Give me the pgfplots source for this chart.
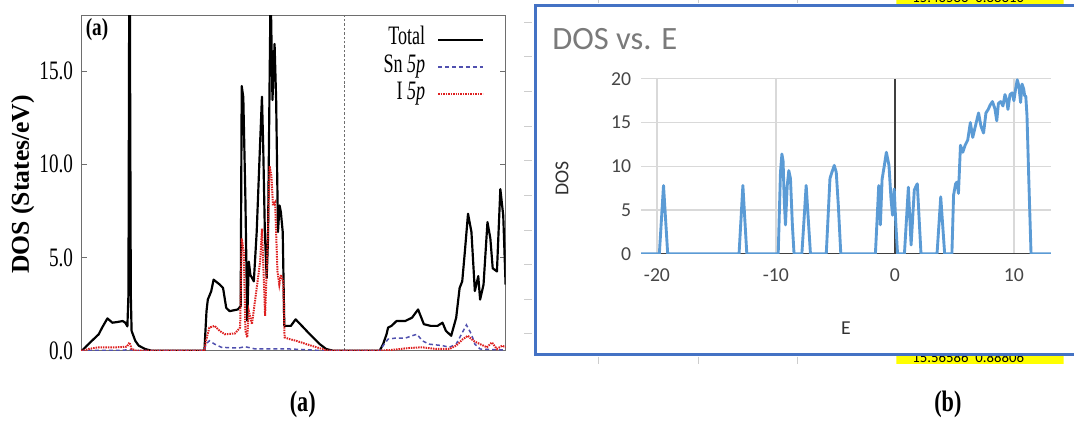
\documentclass[border=0pt]{standalone}
\usepackage{pgfplots}
\pgfplotsset{compat=1.18}
\usepackage{fontspec}
\setmainfont{Liberation Serif}
\newfontfamily\carlito{Carlito}
\usepackage{graphicx}

\definecolor{excelblue}{RGB}{91,155,213}
\definecolor{frameblue}{RGB}{68,114,196}
\definecolor{snblue}{RGB}{80,80,175}
\definecolor{ired}{RGB}{222,32,32}
\definecolor{excelgray}{RGB}{70,70,70}
\definecolor{titlegray}{RGB}{122,122,122}
\definecolor{gridgray}{RGB}{217,217,217}
\definecolor{framegray}{RGB}{110,110,110}
\definecolor{sheetgray}{RGB}{205,205,205}
\definecolor{hlyellow}{RGB}{255,255,0}

\newcommand{\cx}[1]{\scalebox{0.68}[1]{#1}}

\begin{document}
\begin{tikzpicture}
\begin{scope}[x=1bp,y=1bp]
\fill[white] (0,0) rectangle (1075,430);
\path[use as bounding box] (0,0) rectangle (1075,430);
\end{scope}

% ---------------- panel (a): total and partial DOS ----------------
\begin{axis}[
  at={(82bp,76bp)}, anchor=south west, scale only axis,
  width=429bp, height=339bp,
  xmin=-10, xmax=6.15, ymin=0, ymax=18,
  xtick=\empty, ytick={0,5,10,15},
  yticklabels={\scalebox{0.72}[1]{0.0},\scalebox{0.72}[1]{5.0},\scalebox{0.72}[1]{10.0},\scalebox{0.72}[1]{15.0}},
  yticklabel style={font=\fontsize{27}{27}\selectfont, inner sep=0pt, xshift=-8bp},
  tick align=inside, major tick length=6bp,
  tick style={color=framegray, line width=0.8bp},
  axis line style={color=framegray, line width=1bp},
  legend style={draw=none, fill=none, inner sep=0pt, outer sep=0pt,
    at={(0.9487,0.9676)}, anchor=north east,
    font=\fontsize{27}{27}\selectfont,
    legend cell align=right, legend plot pos=right, row sep=0pt,
    nodes={inner sep=0pt, text height=19bp, text depth=8.5bp},
    /tikz/every odd column/.append style={column sep=12bp}},
  legend image code/.code={\draw[#1] (0bp,0bp) -- (45bp,0bp);},
]
% Fermi level
\addplot[forget plot, color=framegray, line width=0.9bp, dash pattern=on 2.5bp off 2bp]
  coordinates {(0,0) (0,18)};

\addplot[black, line width=2.2bp, line join=round] coordinates {
(-10,0) (-9.97,0) (-9.78,0.27) (-9.59,0.53) (-9.33,0.88) (-9.20,1.24) (-9.00,1.73)
(-8.81,1.50) (-8.61,1.54) (-8.42,1.59) (-8.32,1.50) (-8.24,1.30) (-8.20,3.0)
(-8.16,25) (-8.11,3.0) (-8.08,1.06) (-7.94,0.53) (-7.81,0.27) (-7.57,0.09) (-7.33,0)
(-5.31,0) (-5.23,2.12) (-5.18,2.74) (-5.05,3.19) (-4.96,3.81) (-4.72,3.54) (-4.60,3.36)
(-4.48,2.30) (-4.35,2.12) (-4.04,2.21) (-3.93,2.39) (-3.89,14.2) (-3.83,13.6)
(-3.75,8.14) (-3.68,1.6) (-3.62,4.78) (-3.56,4.07) (-3.43,3.72) (-3.32,6.37)
(-3.19,11.15) (-3.12,13.63) (-3.07,10.8) (-3.01,6.37) (-2.94,3.89) (-2.89,6.02)
(-2.83,14.34) (-2.79,19.5) (-2.72,13.45) (-2.64,16.46) (-2.58,13.45) (-2.51,6.37)
(-2.45,7.79) (-2.40,7.43) (-2.33,6.37) (-2.27,1.33) (-2.02,1.33) (-1.84,1.68)
(-1.54,1.24) (-1.30,0.88) (-0.92,0.35) (-0.68,0.09) (-0.43,0)
(1.36,0) (1.49,0.35) (1.62,0.88) (1.68,1.24) (1.81,1.33) (2.00,1.59) (2.33,1.59)
(2.59,1.77) (2.82,2.21) (3.04,1.42) (3.30,1.33) (3.56,1.33) (3.75,1.50) (3.88,1.06)
(4.08,0.80) (4.27,1.77) (4.40,3.36) (4.50,3.72) (4.60,5.31) (4.72,7.35) (4.85,6.37)
(4.98,3.2) (5.11,4.0) (5.18,2.74) (5.31,3.54) (5.46,6.90) (5.57,6.02) (5.66,4.42)
(5.82,4.25) (5.95,8.67) (6.06,7.26) (6.15,3.54)
};
\addlegendentry{\cx{Total}}

\addplot[snblue, line width=1.5bp, dash pattern=on 4bp off 3bp] coordinates {
(-10,0) (-9.5,0.02) (-8.5,0.02) (-8.16,0.05) (-7.9,0) (-5.31,0) (-5.25,0.35)
(-5.12,0.53) (-4.92,0.35) (-4.66,0.18) (-4.02,0.14) (-3.76,0.21) (-3.37,0.09)
(-2.07,0.09) (-1.43,0.05) (-0.78,0) (1.36,0) (1.49,0.27) (1.68,0.62) (1.94,0.67)
(2.33,0.67) (2.59,0.80) (2.78,0.88) (2.98,0.53) (3.24,0.35) (3.75,0.27) (4.01,0.18)
(4.27,0.35) (4.47,0.88) (4.66,1.38) (4.85,0.88) (4.98,0.35) (5.18,0.09) (5.70,0.05)
(6.15,0.04)
};
\addlegendentry{\cx{Sn \textit{5p}}}

\addplot[ired, line width=2bp, dash pattern=on 1.5bp off 1bp] coordinates {
(-10,0) (-9.91,0) (-9.72,0.09) (-9.33,0.18) (-8.68,0.18) (-8.26,0.21) (-8.16,0.44)
(-8.08,0.09) (-7.90,0) (-5.31,0) (-5.25,0.53) (-5.12,1.24) (-4.92,1.33) (-4.73,1.06)
(-4.53,0.88) (-4.15,0.92) (-3.95,1.24) (-3.89,6.02) (-3.81,5.31) (-3.75,1.06)
(-3.68,0.71) (-3.62,2.12) (-3.50,1.42) (-3.32,3.36) (-3.19,4.78) (-3.12,6.55)
(-3.06,4.25) (-3.00,1.86) (-2.89,6.37) (-2.83,9.91) (-2.76,9.38) (-2.70,7.79)
(-2.62,7.96) (-2.53,4.25) (-2.46,3.54) (-2.40,4.07) (-2.31,3.72) (-2.26,0.71)
(-2.07,0.62) (-1.82,0.53) (-1.43,0.35) (-1.04,0.18) (-0.71,0.04) (-0.59,0)
(1.36,0) (1.81,0.04) (2.46,0.14) (2.98,0.18) (3.49,0.09) (4.01,0.09) (4.27,0.27)
(4.53,0.62) (4.72,0.80) (4.92,0.53) (5.18,0.35) (5.44,0.18) (5.63,0.44) (5.82,0.09)
(6.02,0.27) (6.15,0.18)
};
\addlegendentry{\cx{I \textit{5p}}}
\end{axis}

\begin{scope}[x=1bp,y=1bp]
\node[rotate=90, font=\bfseries\fontsize{26}{26}\selectfont, inner sep=0pt] at (23,244) {DOS (States/eV)};
\node[font=\bfseries\fontsize{25}{25}\selectfont, inner sep=0pt] at (98,401) {\scalebox{0.78}[1]{(a)}};

% ---------------- panel (b): spreadsheet chart ----------------
% surrounding sheet grid fragments
\foreach \yy in {408,373,338,303,268,233,198,163,128,93}
  \draw[sheetgray, line width=0.8bp] (530,\yy) -- (538,\yy);
\foreach \xx in {605,706,806} {
  \draw[sheetgray, line width=0.8bp] (\xx,70) -- (\xx,63);
  \draw[sheetgray, line width=0.8bp] (\xx,430) -- (\xx,427);
}
\begin{scope}
  \clip (906,62.5) rectangle (1075,70.5);
  \fill[hlyellow] (906,62.5) rectangle (1075,70.5);
  \node[anchor=base west, inner sep=0pt, font=\carlito\fontsize{15}{15}\selectfont] at (922,64.2) {15.56586\ \ 0.88806};
\end{scope}
\begin{scope}
  \clip (906,425.5) rectangle (1075,430);
  \fill[hlyellow] (906,425.5) rectangle (1075,430);
  \node[anchor=base west, inner sep=0pt, font=\carlito\fontsize{15}{15}\selectfont] at (922,427.5) {15.46586\ \ 0.88310};
\end{scope}

\fill[white] (541,72) rectangle (1080,424.5);
\draw[frameblue, line width=3bp] (1085,72) -- (541,72) -- (541,424.5) -- (1085,424.5);

\node[anchor=base west, inner sep=0pt, text=titlegray, font=\carlito\fontsize{33}{33}\selectfont] at (558,380) {DOS vs. E};
\end{scope}

\begin{axis}[
  at={(648bp,174bp)}, anchor=south west, scale only axis,
  width=414bp, height=176.7bp,
  xmin=-21.33, xmax=13.1, ymin=0, ymax=20,
  xtick={-20,-10,0,10}, ytick={0,5,10,15,20},
  axis line style={draw=none}, major tick length=0pt,
  grid=major, grid style={color=gridgray, line width=1.3bp},
  /pgf/number format/assume math mode=true,
  tick label style={font=\carlito\fontsize{20}{20}\selectfont, text=excelgray, inner sep=0pt},
  yticklabel style={xshift=-10bp},
  xticklabel style={yshift=-15bp},
]
% axis lines of the chart
\addplot[black!75, line width=1.3bp] coordinates {(-21.33,0) (13.1,0)};
\addplot[black!75, line width=1.3bp] coordinates {(0,0) (0,20)};

\addplot[excelblue, line width=2.9bp, line join=round] coordinates {
(-21.33,0) (-19.8,0) (-19.45,7.8) (-19.1,0) (-13.1,0) (-12.78,7.8) (-12.45,0)
(-9.81,0) (-9.62,9.3) (-9.5,11.4) (-9.4,10.6) (-9.3,6.0) (-9.2,3.3) (-9.05,7.8)
(-8.92,9.5) (-8.78,8.6) (-8.62,3.3) (-8.48,0)
(-7.82,0) (-7.46,7.8) (-7.10,0)
(-5.77,0) (-5.46,8.6) (-5.3,9.3) (-5.1,10.1) (-4.93,9.3) (-4.76,5.6) (-4.55,0)
(-1.64,0) (-1.36,7.8) (-1.22,3.3) (-1.08,8.5) (-0.9,10.0) (-0.72,11.6) (-0.5,10.1)
(-0.33,6.3) (-0.2,4.4) (-0.06,7.4) (0.08,3.3) (0.22,0)
(0.8,0) (1.13,7.6) (1.36,1.0) (1.63,7.3) (1.88,8.0) (2.19,0)
(3.54,0) (3.85,6.5) (4.18,0)
(4.79,0) (4.93,6.7) (5.10,8.0) (5.23,8.2) (5.34,6.9) (5.51,12.4) (5.70,11.6)
(5.90,12.4) (6.12,13.0) (6.34,15.0) (6.54,13.3) (6.73,14.4) (6.87,15.2) (7.03,16.1)
(7.23,14.6) (7.45,13.8) (7.65,16.1) (7.84,16.5) (8.0,17.0) (8.2,17.4) (8.4,16.6)
(8.56,15.2) (8.7,17.2) (8.89,17.4) (9.08,16.9) (9.25,18.2) (9.39,17.6) (9.5,16.5)
(9.67,18.2) (9.86,18.4) (10.0,17.5) (10.14,18.8) (10.28,19.9) (10.42,19.2)
(10.56,17.3) (10.69,19.4) (10.83,18.8) (10.9,18.1) (11.0,18.0) (11.1,15.8)
(11.25,8.6) (11.44,0) (13.1,0)
};
\end{axis}

\begin{scope}[x=1bp,y=1bp]
\node[rotate=90, inner sep=0pt, text=excelgray!70!black, font=\carlito\fontsize{20}{20}\selectfont] at (568,250) {DOS};
\node[inner sep=0pt, text=excelgray!70!black, font=\carlito\fontsize{20}{20}\selectfont] at (855,99) {E};

% ---------------- captions ----------------
\node[font=\bfseries\fontsize{30}{30}\selectfont, inner sep=0pt] at (306,22) {\scalebox{0.75}[1]{(a)}};
\node[font=\bfseries\fontsize{30}{30}\selectfont, inner sep=0pt] at (958,22) {\scalebox{0.75}[1]{(b)}};
\end{scope}
\end{tikzpicture}
\end{document}
